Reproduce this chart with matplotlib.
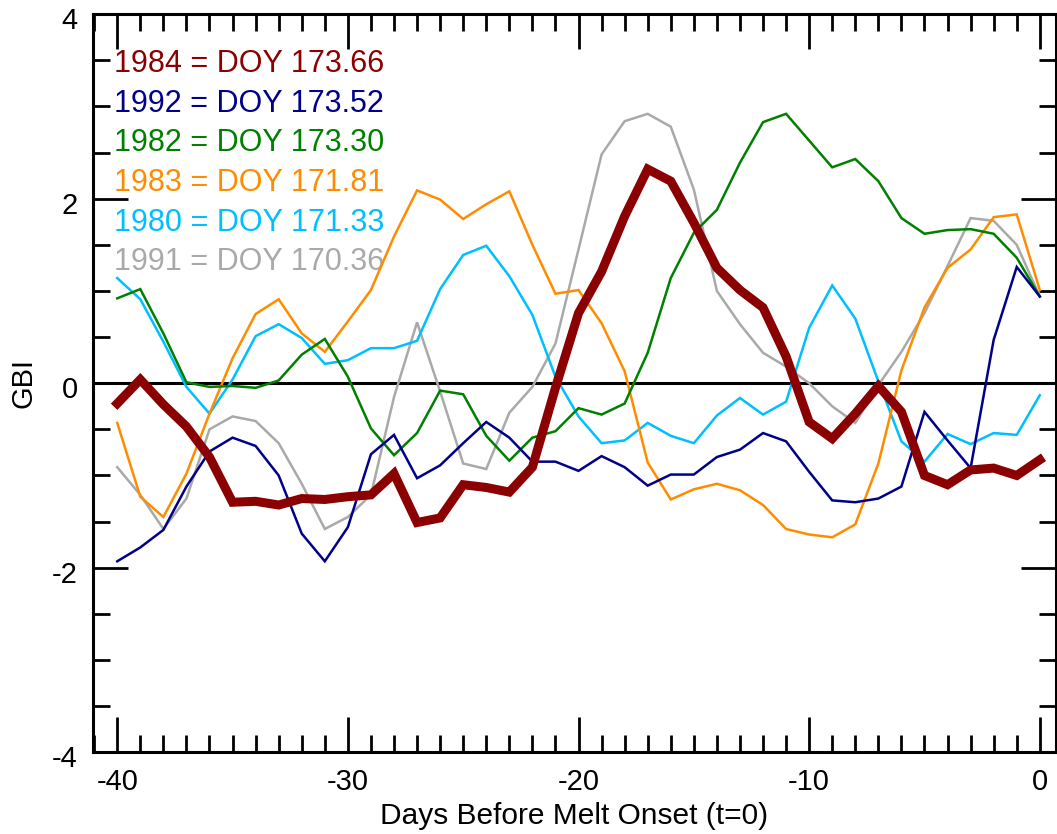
import matplotlib
matplotlib.use("Agg")
import matplotlib.pyplot as plt
from matplotlib.ticker import MultipleLocator
from matplotlib.transforms import ScaledTranslation
import numpy as np

plt.rcParams['font.family'] = ['Liberation Sans', 'DejaVu Sans']
plt.rcParams['axes.unicode_minus'] = False

days = list(range(-40, 1))

gbi_1984 = [-0.22, 0.04, -0.23, -0.47, -0.80, -1.29, -1.28, -1.32, -1.25, -1.26,
            -1.23, -1.21, -0.98, -1.51, -1.46, -1.10, -1.13, -1.18, -0.91, -0.05,
            0.76, 1.21, 1.81, 2.32, 2.19, 1.74, 1.25, 1.01, 0.82, 0.29,
            -0.42, -0.60, -0.33, -0.03, -0.31, -1.00, -1.10, -0.94, -0.92, -1.00,
            -0.83]
gbi_1992 = [-1.93, -1.78, -1.59, -1.12, -0.74, -0.59, -0.68, -1.00, -1.63, -1.93,
            -1.56, -0.77, -0.56, -1.03, -0.89, -0.65, -0.42, -0.59, -0.85, -0.85,
            -0.95, -0.79, -0.91, -1.11, -0.99, -0.99, -0.80, -0.72, -0.54, -0.63,
            -0.96, -1.27, -1.29, -1.25, -1.12, -0.31, -0.62, -0.92, 0.47, 1.26,
            0.94]
gbi_1982 = [0.92, 1.02, 0.54, 0.01, -0.04, -0.03, -0.05, 0.03, 0.31, 0.48,
            0.07, -0.49, -0.78, -0.54, -0.08, -0.12, -0.57, -0.84, -0.59, -0.52,
            -0.27, -0.34, -0.22, 0.33, 1.14, 1.63, 1.88, 2.39, 2.83, 2.92,
            2.63, 2.34, 2.43, 2.19, 1.79, 1.62, 1.66, 1.67, 1.62, 1.36,
            0.94]
gbi_1983 = [-0.43, -1.23, -1.45, -0.98, -0.33, 0.27, 0.75, 0.91, 0.54, 0.34,
            0.67, 1.01, 1.59, 2.09, 1.99, 1.78, 1.94, 2.08, 1.50, 0.97,
            1.01, 0.65, 0.13, -0.86, -1.26, -1.15, -1.09, -1.16, -1.32, -1.58,
            -1.64, -1.67, -1.53, -0.87, 0.14, 0.82, 1.25, 1.45, 1.80, 1.83,
            1.01]
gbi_1980 = [1.14, 0.91, 0.45, -0.04, -0.33, 0.04, 0.51, 0.64, 0.49, 0.21,
            0.25, 0.38, 0.38, 0.46, 1.02, 1.39, 1.49, 1.16, 0.74, 0.07,
            -0.36, -0.65, -0.62, -0.43, -0.57, -0.65, -0.35, -0.16, -0.34, -0.20,
            0.60, 1.06, 0.70, 0.02, -0.63, -0.85, -0.55, -0.66, -0.54, -0.56,
            -0.13]
gbi_1991 = [-0.91, -1.21, -1.58, -1.25, -0.50, -0.36, -0.41, -0.65, -1.09, -1.58,
            -1.45, -1.21, -0.15, 0.66, -0.09, -0.87, -0.93, -0.32, -0.04, 0.43,
            1.45, 2.48, 2.84, 2.92, 2.78, 2.10, 1.00, 0.64, 0.33, 0.18,
            0.00, -0.25, -0.43, -0.02, 0.34, 0.76, 1.27, 1.79, 1.76, 1.50,
            0.94]

labels = ["1984 = DOY 173.66", "1992 = DOY 173.52", "1982 = DOY 173.30",
          "1983 = DOY 171.81", "1980 = DOY 171.33", "1991 = DOY 170.36"]
colors = ["#8B0000", "#00008B", "#008000", "#FF8C00", "#00BFFF", "#A9A9A9"]
series = [gbi_1984, gbi_1992, gbi_1982, gbi_1983, gbi_1980, gbi_1991]
widths = [6.5, 1.8, 1.8, 1.8, 1.8, 1.8]

fig = plt.figure(figsize=(10.57, 8.34), dpi=100)
ax = fig.add_axes([0.088, 0.098, 0.911, 0.885])

ax.axhline(0, color='black', lw=2.2, zorder=1)

order = [5, 4, 3, 2, 1, 0]
for i in order:
    ax.plot(days, series[i], color=colors[i], lw=widths[i],
            solid_joinstyle='miter', zorder=2 + (6 - i))

ax.set_xlim(-41.05, 0.7)
ax.set_ylim(-4, 4)
ax.xaxis.set_major_locator(MultipleLocator(10))
ax.xaxis.set_minor_locator(MultipleLocator(1))
ax.yaxis.set_major_locator(MultipleLocator(2))
ax.yaxis.set_minor_locator(MultipleLocator(0.5))
ax.tick_params(which='both', direction='in', top=True, right=True, width=2, colors='black')
ax.tick_params(which='major', length=25, labelsize=21)
ax.tick_params(which='minor', length=12)
ax.tick_params(axis='x', which='major', pad=11)
ax.tick_params(axis='y', which='major', pad=11)
for s in ax.spines.values():
    s.set_linewidth(2.2)

shift = ScaledTranslation(0, -0.04, fig.dpi_scale_trans)
for lbl in ax.get_yticklabels():
    lbl.set_transform(lbl.get_transform() + shift)

ax.set_xlabel("Days Before Melt Onset (t=0)", fontsize=21.5, labelpad=5)
ax.set_ylabel("GBI", fontsize=21, labelpad=10)

y0 = 3.46
dy = 0.43
for k, (lab, c) in enumerate(zip(labels, colors)):
    ax.text(-40.13, y0 - k * dy, lab, color=c, fontsize=22, ha='left', va='center')

fig.savefig("out.png", dpi=100)
